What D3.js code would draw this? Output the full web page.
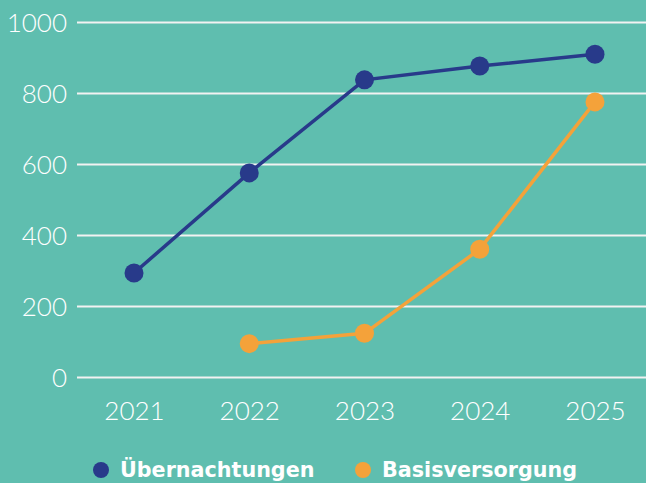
<!DOCTYPE html>
<html><head><meta charset="utf-8">
<script src="https://cdn.jsdelivr.net/npm/d3@7"></script>
<style>html,body{margin:0;padding:0;background:#5FBEAF;}svg{display:block;}</style>
</head><body>
<script>
const years = ["2021","2022","2023","2024","2025"];
const uebernachtungen = [293, 575, 837, 876, 909];
const basisversorgung = [null, 94, 123, 360, 775];
const yTicks = [0, 200, 400, 600, 800, 1000];
const seriesNames = ["Übernachtungen", "Basisversorgung"];
const colors = ["#283A8A", "#F4A23A"];

const W = 646, H = 483;
const svg = d3.select("body").append("svg").attr("width", W).attr("height", H);
svg.append("rect").attr("width", W).attr("height", H).attr("fill", "#5FBEAF");

const x = d3.scalePoint().domain(years).range([134, 595]);
const y = d3.scaleLinear().domain([0, 1000]).range([377, 22]);

const font = "Lato, 'Open Sans', sans-serif";

// gridlines
const yAxis = d3.axisLeft(y).tickValues(yTicks).tickSize(-(W - 77)).tickPadding(10).tickFormat(d3.format("d"));
const gy = svg.append("g").attr("transform", "translate(77,0)").call(yAxis);
gy.select(".domain").remove();
gy.selectAll(".tick line").attr("stroke", "#F2F2F2").attr("stroke-width", 2);
gy.selectAll(".tick text").attr("fill", "#FFFFFF").attr("font-family", font).attr("font-weight", 300)
  .attr("font-size", 26).attr("dy", "0.35em").attr("x", -10);

const xAxis = d3.axisBottom(x).tickSize(0).tickPadding(0);
const gx = svg.append("g").attr("transform", "translate(0,420)").call(xAxis);
gx.select(".domain").remove();
gx.selectAll(".tick text").attr("fill", "#FFFFFF").attr("font-family", font).attr("font-weight", 300)
  .attr("font-size", 26).attr("dy", 0).attr("y", 0);

const series = [uebernachtungen, basisversorgung];
const line = d3.line().defined(d => d.v != null).x(d => x(d.year)).y(d => y(d.v));
series.forEach((vals, i) => {
  const data = years.map((yr, j) => ({year: yr, v: vals[j]}));
  svg.append("path").datum(data).attr("d", line).attr("fill", "none")
    .attr("stroke", colors[i]).attr("stroke-width", 3.5);
  svg.selectAll(null).data(data.filter(d => d.v != null)).enter().append("circle")
    .attr("cx", d => x(d.year)).attr("cy", d => y(d.v)).attr("r", 9.5).attr("fill", colors[i]);
});

// legend
const legendX = [101, 363];
seriesNames.forEach((name, i) => {
  const g = svg.append("g").attr("transform", `translate(${legendX[i]},470)`);
  g.append("circle").attr("r", 8).attr("fill", colors[i]);
  g.append("text").attr("x", 19).attr("dy", "0.36em").attr("fill", "#FFFFFF")
    .attr("font-family", "'DejaVu Sans', sans-serif").attr("font-weight", 700).attr("font-size", 20.7).text(name);
});
</script>
</body></html>
